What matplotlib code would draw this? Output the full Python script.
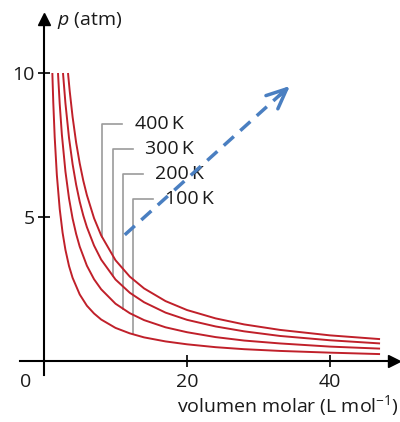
import matplotlib
matplotlib.use("Agg")
import matplotlib.pyplot as plt
import numpy as np

plt.rcParams['font.family'] = ['Open Sans', 'DejaVu Sans']
plt.rcParams['mathtext.fontset'] = 'custom'
plt.rcParams['mathtext.rm'] = 'Open Sans'
plt.rcParams['mathtext.it'] = 'Open Sans:italic'

# isotherms: molar volume (L/mol) -> pressure (atm)
temps = ['400\u2009K', '300\u2009K', '200\u2009K', '100\u2009K']

v_400 = [3.36, 3.6, 4, 4.5, 5, 5.5, 6, 7, 8, 10, 12, 14, 17, 20, 24, 28, 33, 40, 47]
p_400 = [10.0, 9.37, 8.48, 7.58, 6.86, 6.26, 5.76, 4.96, 4.36, 3.50, 2.93, 2.52, 2.08, 1.77, 1.48, 1.27, 1.08, 0.89, 0.76]

v_300 = [2.66, 3, 3.5, 4, 4.5, 5, 5.5, 6, 7, 8, 10, 12, 14, 17, 20, 24, 28, 33, 40, 47]
p_300 = [10.0, 8.95, 7.75, 6.84, 6.12, 5.53, 5.05, 4.65, 4.01, 3.52, 2.83, 2.37, 2.04, 1.68, 1.43, 1.20, 1.03, 0.87, 0.72, 0.61]

v_200 = [1.96, 2.2, 2.5, 3, 3.5, 4, 4.5, 5, 6, 7, 8, 10, 12, 14, 17, 20, 24, 28, 33, 40, 47]
p_200 = [10.0, 8.93, 7.87, 6.58, 5.65, 4.95, 4.41, 3.97, 3.31, 2.84, 2.49, 1.99, 1.66, 1.42, 1.17, 1.00, 0.83, 0.71, 0.61, 0.50, 0.43]

v_100 = [1.17, 1.3, 1.5, 1.8, 2.2, 2.6, 3, 3.5, 4, 5, 6, 7, 8, 10, 12, 14, 17, 20, 24, 28, 33, 40, 47]
p_100 = [10.0, 8.98, 7.77, 6.46, 5.28, 4.46, 3.86, 3.30, 2.89, 2.31, 1.92, 1.65, 1.44, 1.15, 0.96, 0.82, 0.68, 0.58, 0.48, 0.41, 0.35, 0.29, 0.24]

curves_v = [v_400, v_300, v_200, v_100]
curves_p = [p_400, p_300, p_200, p_100]

# where each label's leader line drops onto its curve
leader_v = [8.16, 9.65, 11.05, 12.45]
leader_top = [8.23, 7.36, 6.49, 5.62]

red = '#c0202a'
grey = '#9b9b9b'
blue = '#4a7fc1'
ink = '#1a1a1a'
fs = 14

fig = plt.figure(figsize=(4, 4.22), dpi=100)
ax = fig.add_axes([0, 0, 1, 1])
ax.set_xlim(-6.15, 49.79)
ax.set_ylim(-2.118, 12.535)

for v, p in zip(curves_v, curves_p):
    ax.plot(v, p, color=red, lw=1.4, solid_capstyle='butt', zorder=3)

for lbl, lv, lt, v, p in zip(temps, leader_v, leader_top, curves_v, curves_p):
    bottom = np.interp(lv, v, p)
    ax.plot([lv, lv, lv + 2.8], [bottom, lt, lt], color=grey, lw=1.2, zorder=2)
    ax.text(lv + 4.5, lt, lbl, fontsize=fs, ha='left', va='center', color=ink)

# dashed blue arrow
start = (11.3, 4.38)
tip = (34.4, 9.55)
ax.plot([start[0], tip[0] - 0.6], [start[1], tip[1] - 0.13], color=blue, lw=2.5,
        dashes=(3.9, 2.5), dash_capstyle='butt', zorder=4)
ax.annotate('', xy=tip, xytext=(tip[0] - 1.5, tip[1] - 0.335),
            arrowprops=dict(arrowstyle='->,head_length=0.72,head_width=0.32',
                            color=blue, lw=2.5, mutation_scale=20,
                            shrinkA=0, shrinkB=0), zorder=4)

# axes through the origin, with arrow heads
for s in ['top', 'right']:
    ax.spines[s].set_visible(False)
ax.spines['left'].set_position(('data', 0))
ax.spines['bottom'].set_position(('data', 0))
ax.spines['left'].set_bounds(-0.5, 11.9)
ax.spines['bottom'].set_bounds(-3.4, 49.0)
for s in ['left', 'bottom']:
    ax.spines[s].set_linewidth(1.5)
ax.plot(0, 11.89, marker='^', ms=8, color='black', clip_on=False)
ax.plot(49.0, 0, marker='>', ms=8, color='black', clip_on=False)

ax.set_xticks([20, 40])
ax.set_yticks([5, 10])
ax.tick_params(axis='both', direction='inout', length=9, width=1.2,
               labelsize=fs, labelcolor=ink)
ax.tick_params(axis='x', pad=4)
ax.tick_params(axis='y', pad=2)

ax.text(-2.5, -0.73, '0', fontsize=fs, ha='center', va='center', color=ink)
ax.text(1.82, 11.84, r'$\it{p}$ (atm)', fontsize=fs, ha='left', va='center', color=ink)
ax.text(49.6, -1.55, r'volumen molar (L mol$^{-1}$)', fontsize=fs, ha='right', va='center',
        color=ink)

fig.savefig('out.png', dpi=100)
